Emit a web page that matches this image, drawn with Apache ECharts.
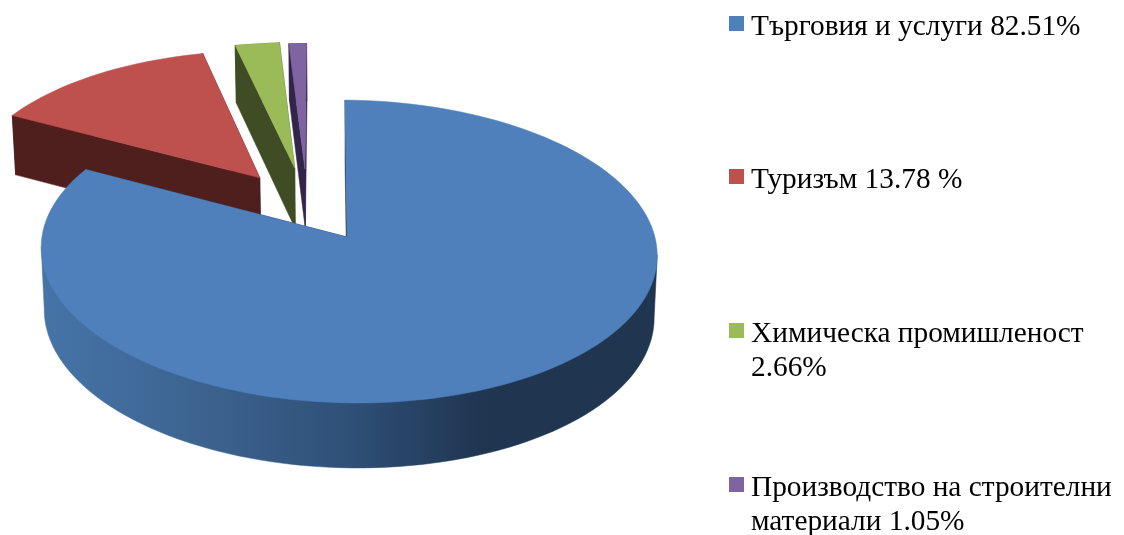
<!DOCTYPE html>
<html>
<head>
<meta charset="utf-8">
<title>Pie</title>
<style>
  html, body { margin: 0; padding: 0; background: #fff; }
  #main { width: 1124px; height: 535px; }
</style>
<script src="https://cdn.jsdelivr.net/npm/echarts@6/dist/echarts.min.js"></script>
</head>
<body>
<div id="main"></div>
<script>
// data
const names = ['Търговия и услуги 82.51%', 'Туризъм 13.78 %', 'Химическа промишленост\n2.66%', 'Производство на строителни\nматериали 1.05%'];
const values = [82.51, 13.78, 2.66, 1.05];

// colours: top face, side wall
const topColors = ['#4F80BC', '#BE504E', '#9BBB59', '#8064A2'];
const wallColors = ['#1F3550', '#4F1F1D', '#3F4C24', '#32254A'];

// how far each slice is pulled out, in pie radii (sideways, backwards)
const explode = [[0, 0], [-0.293, 0.405], [-0.175, 0.477], [-0.14, 0.47]];

// paint order: back slices first
const paintOrder = [3, 2, 1, 0];

// camera
const CX = 347, CY = 237;
const A = 306.6, B = 150, P = 0.0957, YAW = -0.0065, SHEAR = -2.2, ROLL = 3;
const LEGEND_Y = [16, 169, 323, 477];

const total = values.reduce((a, b) => a + b, 0);
const startAngle = [];
values.reduce((sum, v, i) => { startAngle[i] = sum / total * 360; return sum + v; }, 0);

// perspective projection of a point of the pie (u right, v back), low = on bottom plane
const project = (u, v, low) => {
  const w = 1 + P * v + YAW * u;
  const x = (A * u + SHEAR * v) / w;
  const y = (-B * v + ROLL * u) / w;
  if (!low) return [CX + x, CY + y];
  return [CX + x * 0.99, CY + y + 62 - 3 * v];
};

const rimPoint = (i, deg, low) => {
  const t = deg * Math.PI / 180;
  return project(explode[i][0] + Math.sin(t), explode[i][1] + Math.cos(t), low);
};

const rim = (i, low) => {
  const from = startAngle[i];
  const to = from + values[i] / total * 360;
  const steps = Math.max(4, Math.ceil((to - from) / 2));
  const pts = [];
  for (let s = 0; s <= steps; s++) pts.push(rimPoint(i, from + (to - from) * s / steps, low));
  return pts;
};

// silhouette of the outer wall: from the leftmost to the rightmost rim point, the top face paints over the rest
const wallOutline = (top, bottom) => {
  const xs = top.map(p => p[0]);
  const left = xs.indexOf(Math.min.apply(null, xs));
  const right = xs.indexOf(Math.max.apply(null, xs));
  const a = Math.min(left, right), b = Math.max(left, right);
  return [top[a]].concat(bottom.slice(a, b + 1), [top[b]]);
};

const poly = (points, fill, z2) => ({
  type: 'polygon',
  z2: z2,
  shape: { points: points },
  style: { fill: fill, stroke: fill, lineWidth: 0.5 }
});

const blueWall = new echarts.graphic.LinearGradient(0, 0, 1, 0, [
  { offset: 0, color: '#4674A8' },
  { offset: 0.25, color: '#3D6491' },
  { offset: 0.5, color: '#2F5077' },
  { offset: 0.72, color: '#1F3550' },
  { offset: 1, color: '#1F3550' }
]);

const renderSlice = (params, api) => {
  const i = params.dataIndex;
  const base = paintOrder.indexOf(i) * 10;
  const top = rim(i, false);
  const bottom = rim(i, true);
  const apexTop = project(explode[i][0], explode[i][1], false);
  const apexLow = project(explode[i][0], explode[i][1], true);
  const last = top.length - 1;
  return {
    type: 'group',
    children: [
      // radial walls
      poly([apexTop, top[0], bottom[0], apexLow], wallColors[i], base + 1),
      poly([apexTop, top[last], bottom[last], apexLow], wallColors[i], base + 1),
      // outer wall
      poly(wallOutline(top, bottom), i === 0 ? blueWall : wallColors[i], base + 2),
      // top face
      poly([apexTop].concat(top), topColors[i], base + 3),
      // legend
      {
        type: 'rect',
        z2: 100,
        shape: { x: 729, y: LEGEND_Y[i], width: 15, height: 15 },
        style: { fill: topColors[i] }
      },
      {
        type: 'text',
        z2: 100,
        x: 751,
        y: LEGEND_Y[i] - 6,
        style: {
          text: names[i],
          fill: '#000',
          font: '29.33px "Liberation Serif"',
          lineHeight: 34,
          verticalAlign: 'top',
          align: 'left'
        }
      }
    ]
  };
};

const chart = echarts.init(document.getElementById('main'));
chart.setOption({
  animation: false,
  backgroundColor: '#fff',
  series: [{
    type: 'custom',
    coordinateSystem: 'none',
    renderItem: renderSlice,
    data: values,
    silent: true
  }]
});
window.addEventListener('resize', () => chart.resize());
</script>
</body>
</html>
